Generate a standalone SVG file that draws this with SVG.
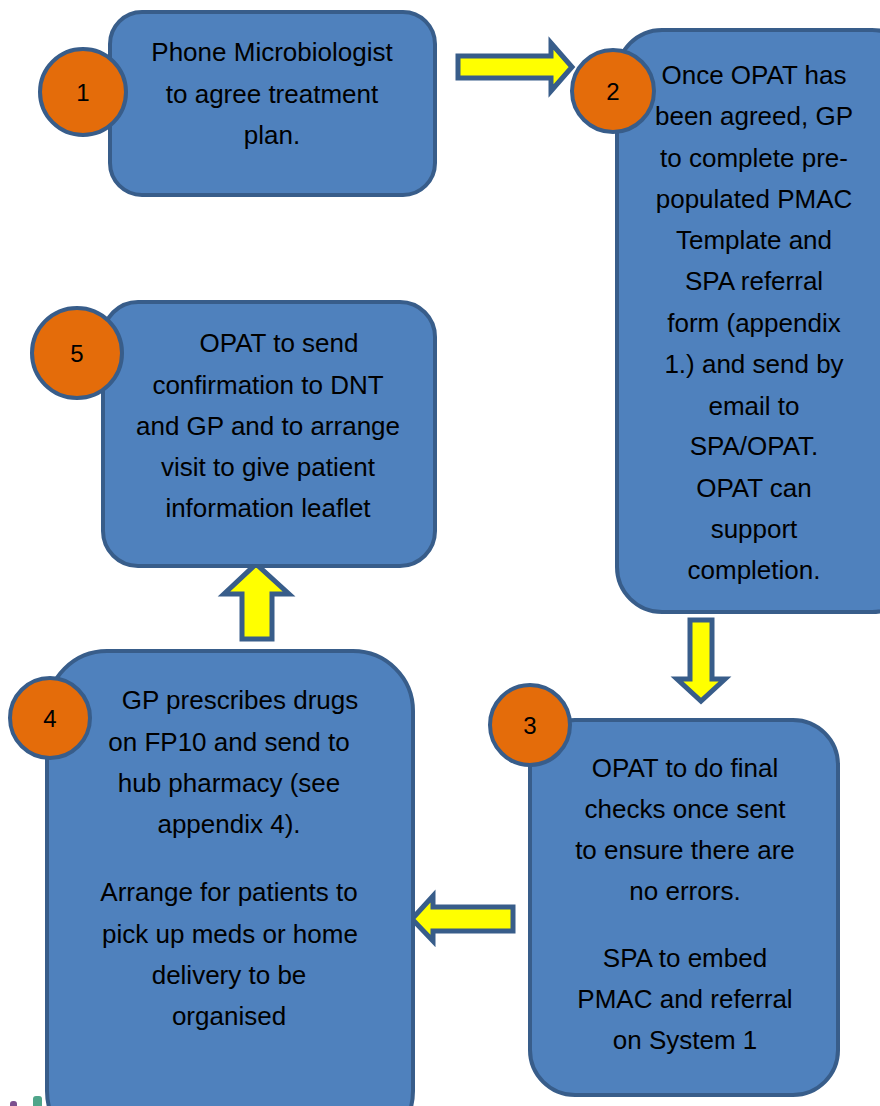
<svg xmlns="http://www.w3.org/2000/svg" width="880" height="1106" viewBox="0 0 880 1106">
<style>
.box{fill:#4f81bd;stroke:#385d8a;stroke-width:4}
.num{fill:#e46c0a;stroke:#385d8a;stroke-width:4}
.arr{fill:#ffff00;stroke:#385d8a;stroke-width:5;stroke-linejoin:miter}
.t{font-family:"Liberation Sans",Arial,sans-serif;font-size:26px;fill:#000;text-anchor:middle}
.n{font-family:"Liberation Sans",Arial,sans-serif;font-size:24px;fill:#000;text-anchor:middle}
</style>
<rect width="880" height="1106" fill="#fff"/>
<g id="connectors">
<polygon class="arr" points="458,56 551,56 551,43 572,67 551,91 551,78 458,78"/>
<polygon class="arr" points="690,620 712,620 712,679 725,679 701,701 677,679 690,679"/>
<polygon class="arr" points="513,907 433,907 433,896 412,919 433,941 433,931 513,931"/>
<polygon class="arr" points="242,639 272,639 272,594 289,594 256,564 224,594 242,594"/>
</g>
<g id="node1">
<rect class="box" x="110" y="12" width="325" height="183" rx="32"/>
<circle class="num" cx="83" cy="92" r="43"/>
<text class="n" x="83" y="101">1</text>
<text class="t" x="272" y="61">Phone Microbiologist</text>
<text class="t" x="272" y="103">to agree treatment</text>
<text class="t" x="272" y="144">plan.</text>
</g>
<g id="node2">
<rect class="box" x="617" y="30" width="300" height="582" rx="45"/>
<circle class="num" cx="613" cy="91" r="41"/>
<text class="n" x="613" y="100">2</text>
<text class="t" x="754" y="84">Once OPAT has</text>
<text class="t" x="754" y="125">been agreed, GP</text>
<text class="t" x="754" y="167">to complete pre-</text>
<text class="t" x="754" y="208">populated PMAC</text>
<text class="t" x="754" y="249">Template and</text>
<text class="t" x="754" y="290">SPA referral</text>
<text class="t" x="754" y="332">form (appendix</text>
<text class="t" x="754" y="373">1.) and send by</text>
<text class="t" x="754" y="415">email to</text>
<text class="t" x="754" y="455">SPA/OPAT.</text>
<text class="t" x="754" y="497">OPAT can</text>
<text class="t" x="754" y="538">support</text>
<text class="t" x="754" y="579">completion.</text>
</g>
<g id="node3">
<rect class="box" x="530" y="720" width="308" height="375" rx="45"/>
<circle class="num" cx="530" cy="725" r="40"/>
<text class="n" x="530" y="734">3</text>
<text class="t" x="685" y="777">OPAT to do final</text>
<text class="t" x="685" y="818">checks once sent</text>
<text class="t" x="685" y="859">to ensure there are</text>
<text class="t" x="685" y="900">no errors.</text>
<text class="t" x="685" y="967">SPA to embed</text>
<text class="t" x="685" y="1008">PMAC and referral</text>
<text class="t" x="685" y="1049">on System 1</text>
</g>
<g id="node4">
<rect class="box" x="47" y="651" width="366" height="500" rx="60"/>
<circle class="num" cx="50" cy="718" r="40"/>
<text class="n" x="50" y="727">4</text>
<text class="t" x="240" y="709">GP prescribes drugs</text>
<text class="t" x="229" y="751">on FP10 and send to</text>
<text class="t" x="229" y="792">hub pharmacy (see</text>
<text class="t" x="229" y="833">appendix 4).</text>
<text class="t" x="229" y="901">Arrange for patients to</text>
<text class="t" x="230" y="943">pick up meds or home</text>
<text class="t" x="229" y="984">delivery to be</text>
<text class="t" x="229" y="1025">organised</text>
</g>
<g id="node5">
<rect class="box" x="103" y="302" width="332" height="264" rx="35"/>
<circle class="num" cx="77" cy="353" r="45"/>
<text class="n" x="77" y="362">5</text>
<text class="t" x="279" y="352">OPAT to send</text>
<text class="t" x="268" y="394">confirmation to DNT</text>
<text class="t" x="268" y="435">and GP and to arrange</text>
<text class="t" x="268" y="476">visit to give patient</text>
<text class="t" x="268" y="517">information leaflet</text>
</g>
<g id="logo-fragment">
<rect x="10" y="1101" width="7" height="8" rx="3" fill="#7b4f8e"/>
<rect x="33" y="1096" width="9" height="12" rx="3" fill="#4fa58a"/>
</g>
</svg>
